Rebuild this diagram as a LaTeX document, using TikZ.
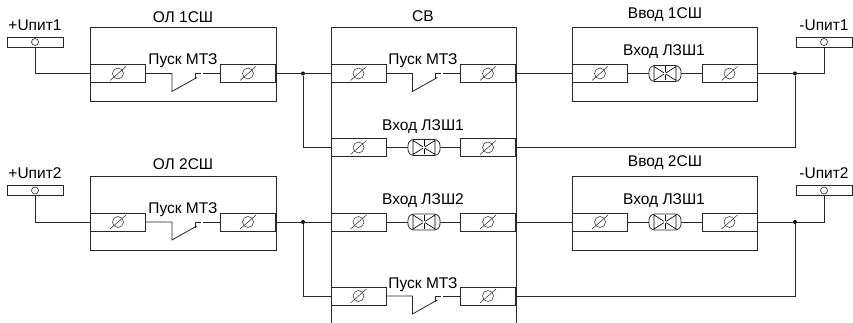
\documentclass[tikz,border=0pt]{standalone}
\usepackage{fontspec}
\setmainfont{Liberation Sans}
\usetikzlibrary{calc}
\tikzset{
 wire/.style={black!85, line width=.8pt},
 clampbox/.style={wire, draw, fill=white, minimum width=55pt, minimum height=18pt, inner sep=0pt,
  path picture={
   \draw[wire, line width=.5pt] (path picture bounding box.center) circle (5.5pt);
   \draw[wire, line width=.5pt] ($(path picture bounding box.center)+(-8,7)$)--($(path picture bounding box.center)+(8,-7)$);
  }},
 supplybox/.style={wire, draw, fill=white, minimum width=56pt, minimum height=10pt, inner sep=0pt,
  path picture={
   \draw[wire, line width=.6pt] (path picture bounding box.center) circle (3.5pt);
  }},
 lampbox/.style={wire, draw, fill=white, rounded corners=6pt, minimum width=32pt, minimum height=16pt, inner sep=0pt,
  path picture={
   \draw[black, sharp corners, line width=.65pt] ($(path picture bounding box.center)+(-11,-7)$)--($(path picture bounding box.center)+(11,7)$)--++(0,-14)--($(path picture bounding box.center)+(-11,7)$)--cycle;
   \draw[black, sharp corners, line width=.65pt] ($(path picture bounding box.center)+(0,-7)$)--++(0,14);
   \fill[sharp corners] (path picture bounding box.center) circle (1.7pt);
  }},
 caption/.style={font=\fontsize{15.5}{17}\selectfont, inner sep=0pt},
 junction/.style={circle, fill=black, minimum size=4pt, inner sep=0pt}
}
\begin{document}
\begin{tikzpicture}[x=1pt, y=-1pt]
\useasboundingbox (0,0) rectangle (853,323);
% frames
\draw[wire] (90.5,27) rectangle (276,101.5);
\draw[wire] (90.5,176) rectangle (276,250);
\draw[wire] (572,27.5) rectangle (757,101.5);
\draw[wire] (572,176) rectangle (757,250);
\draw[wire] (331,323)--(331,27)--(516,27)--(516,323);
% clamps
\foreach \name/\x/\y in {ol1a/118/73.5, ol1b/248/73.5, ol2a/118/222, ol2b/248/222, vv1a/600/73.5, vv1b/729.5/73.5, vv2a/600/222, vv2b/729.5/222,
 sv1a/358.5/73.5, sv1b/488/73.5, sv2a/358.5/147.5, sv2b/488/147.5, sv3a/358.5/222, sv3b/488/222, sv4a/358.5/296, sv4b/488/296} {
 \node[clampbox] (\name) at (\x,\y) {};
}
% supply bars
\node[supplybox] (p1) at (35,42) {};
\node[supplybox] (p2) at (35,190.5) {};
\node[supplybox] (m1) at (824,42) {};
\node[supplybox] (m2) at (824,190.5) {};
% lamps
\foreach \name/\x/\y in {lv1/665/73.5, lv2/665/222, ls1/424/147.5, ls2/424/222} {
 \coordinate (\name) at (\x,\y);
}
\foreach \a/\l/\b in {vv1a/lv1/vv1b, vv2a/lv2/vv2b, sv2a/ls1/sv2b, sv3a/ls2/sv3b} {
 \draw[wire] (\a.east)--(\b.west);
 \node[lampbox] at (\l) {};
}
% normally closed contacts
\foreach \a/\b in {ol1a/ol1b, ol2a/ol2b, sv1a/sv1b, sv4a/sv4b} {
 \draw[wire] (\a.east)--++(26,0)--++(0,18)--++(25,-14);
 \draw[wire] (\b.west)--++(-17,0);
 \draw[wire] ($(\b.west)+(-19,0)$)--++(-5.5,0)--++(0,6);
}
% junctions
\node[junction] (jl1) at (303,73.5) {};
\node[junction] (jl2) at (303,222) {};
\node[junction] (jr1) at (795,73.5) {};
\node[junction] (jr2) at (795,222) {};
% wiring
\draw[wire] (p1.south)|-(ol1a.west);
\draw[wire] (p2.south)|-(ol2a.west);
\draw[wire] (m1.south)|-(vv1b.east);
\draw[wire] (m2.south)|-(vv2b.east);
\draw[wire] (ol1b.east)--(sv1a.west);
\draw[wire] (ol2b.east)--(sv3a.west);
\draw[wire] (sv1b.east)--(vv1a.west);
\draw[wire] (sv3b.east)--(vv2a.west);
\draw[wire] (jl1)|-(sv2a.west);
\draw[wire] (jl2)|-(sv4a.west);
\draw[wire] (jr1)|-(sv2b.east);
\draw[wire] (jr2)|-(sv4b.east);
% captions
\foreach \x/\y/\t in {35/25/+Uпит1, 35/173/+Uпит2, 824/25/-Uпит1, 824/173/-Uпит2,
 183/17/ОЛ 1СШ, 183/164/ОЛ 2СШ, 423/16/СВ, 665/15/Ввод 1СШ, 665/163/Ввод 2СШ,
 183/61/Пуск МТЗ, 183/210/Пуск МТЗ, 423/61/Пуск МТЗ, 423/285/Пуск МТЗ,
 664/52/Вход ЛЗШ1, 664/201/Вход ЛЗШ1, 423/127/Вход ЛЗШ1, 423/201/Вход ЛЗШ2} {
 \node[caption] at (\x,\y) {\t};
}
\end{tikzpicture}
\end{document}
